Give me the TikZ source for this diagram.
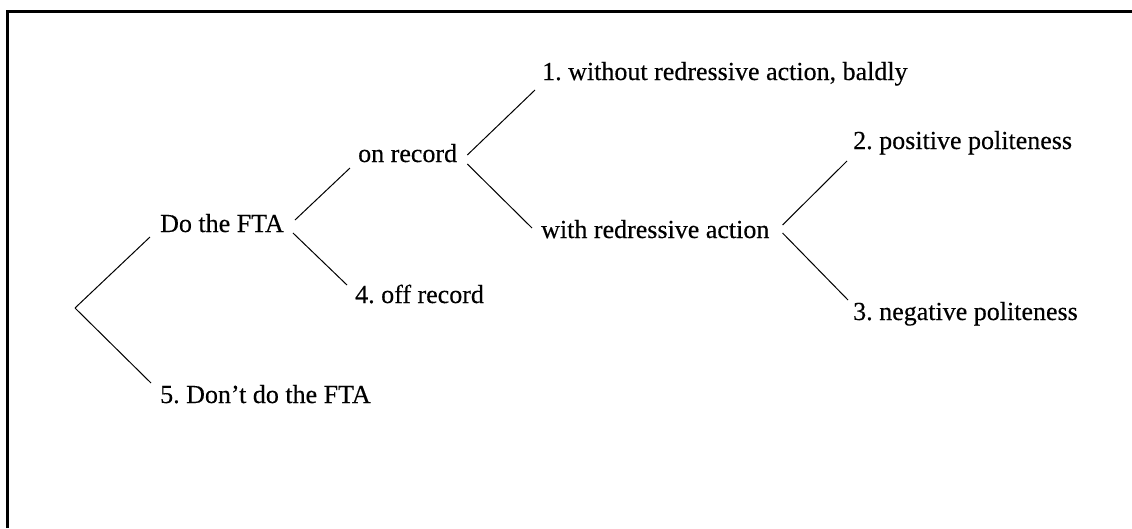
\documentclass[tikz,border=0pt]{standalone}
\usepackage{fontspec}
\setmainfont{Liberation Serif}
\newfontfamily\lblfont{Liberation Serif}[FakeBold=0.35]
\begin{document}
\frenchspacing
\begin{tikzpicture}[x=1pt,y=-1pt,
  lbl/.style={anchor=base west,inner sep=0pt,font=\lblfont\fontsize{26}{30}\selectfont},
  branch/.style={line width=1pt},
  frame/.style={line width=3pt}]
\useasboundingbox (0,0) rectangle (1132,528);
\draw[frame] (7,528) -- (7,11) -- (1132,11);
\coordinate (root) at (75,308);
\node[lbl] (do) at (160,232) {Do the FTA};
\node[lbl] (dont) at (160,403) {5. Don’t do the FTA};
\node[lbl] (onrec) at (358,162) {on record};
\node[lbl] (off) at (355,303) {4. off record};
\node[lbl] (one) at (542,80) {1. without redressive action, baldly};
\node[lbl] (with) at (541,238) {with redressive action};
\node[lbl] (two) at (853,149) {2. positive politeness};
\node[lbl] (three) at (853,320) {3. negative politeness};
\draw[branch] (root) -- ([shift={(-10,5)}]do.base west);
\draw[branch] (root) -- ([shift={(-9,-20)}]dont.base west);
\draw[branch] ([shift={(11,-12)}]do.base east) -- ([shift={(-8,6)}]onrec.base west);
\draw[branch] ([shift={(9,1)}]do.base east) -- ([shift={(-8,-18)}]off.base west);
\draw[branch] ([shift={(10,-7)}]onrec.base east) -- ([shift={(-7,10)}]one.base west);
\draw[branch] ([shift={(10,2)}]onrec.base east) -- ([shift={(-9,-10)}]with.base west);
\draw[branch] ([shift={(13,-13)}]with.base east) -- ([shift={(-6,12)}]two.base west);
\draw[branch] ([shift={(13,-5)}]with.base east) -- ([shift={(-5,-20)}]three.base west);
\end{tikzpicture}
\end{document}
